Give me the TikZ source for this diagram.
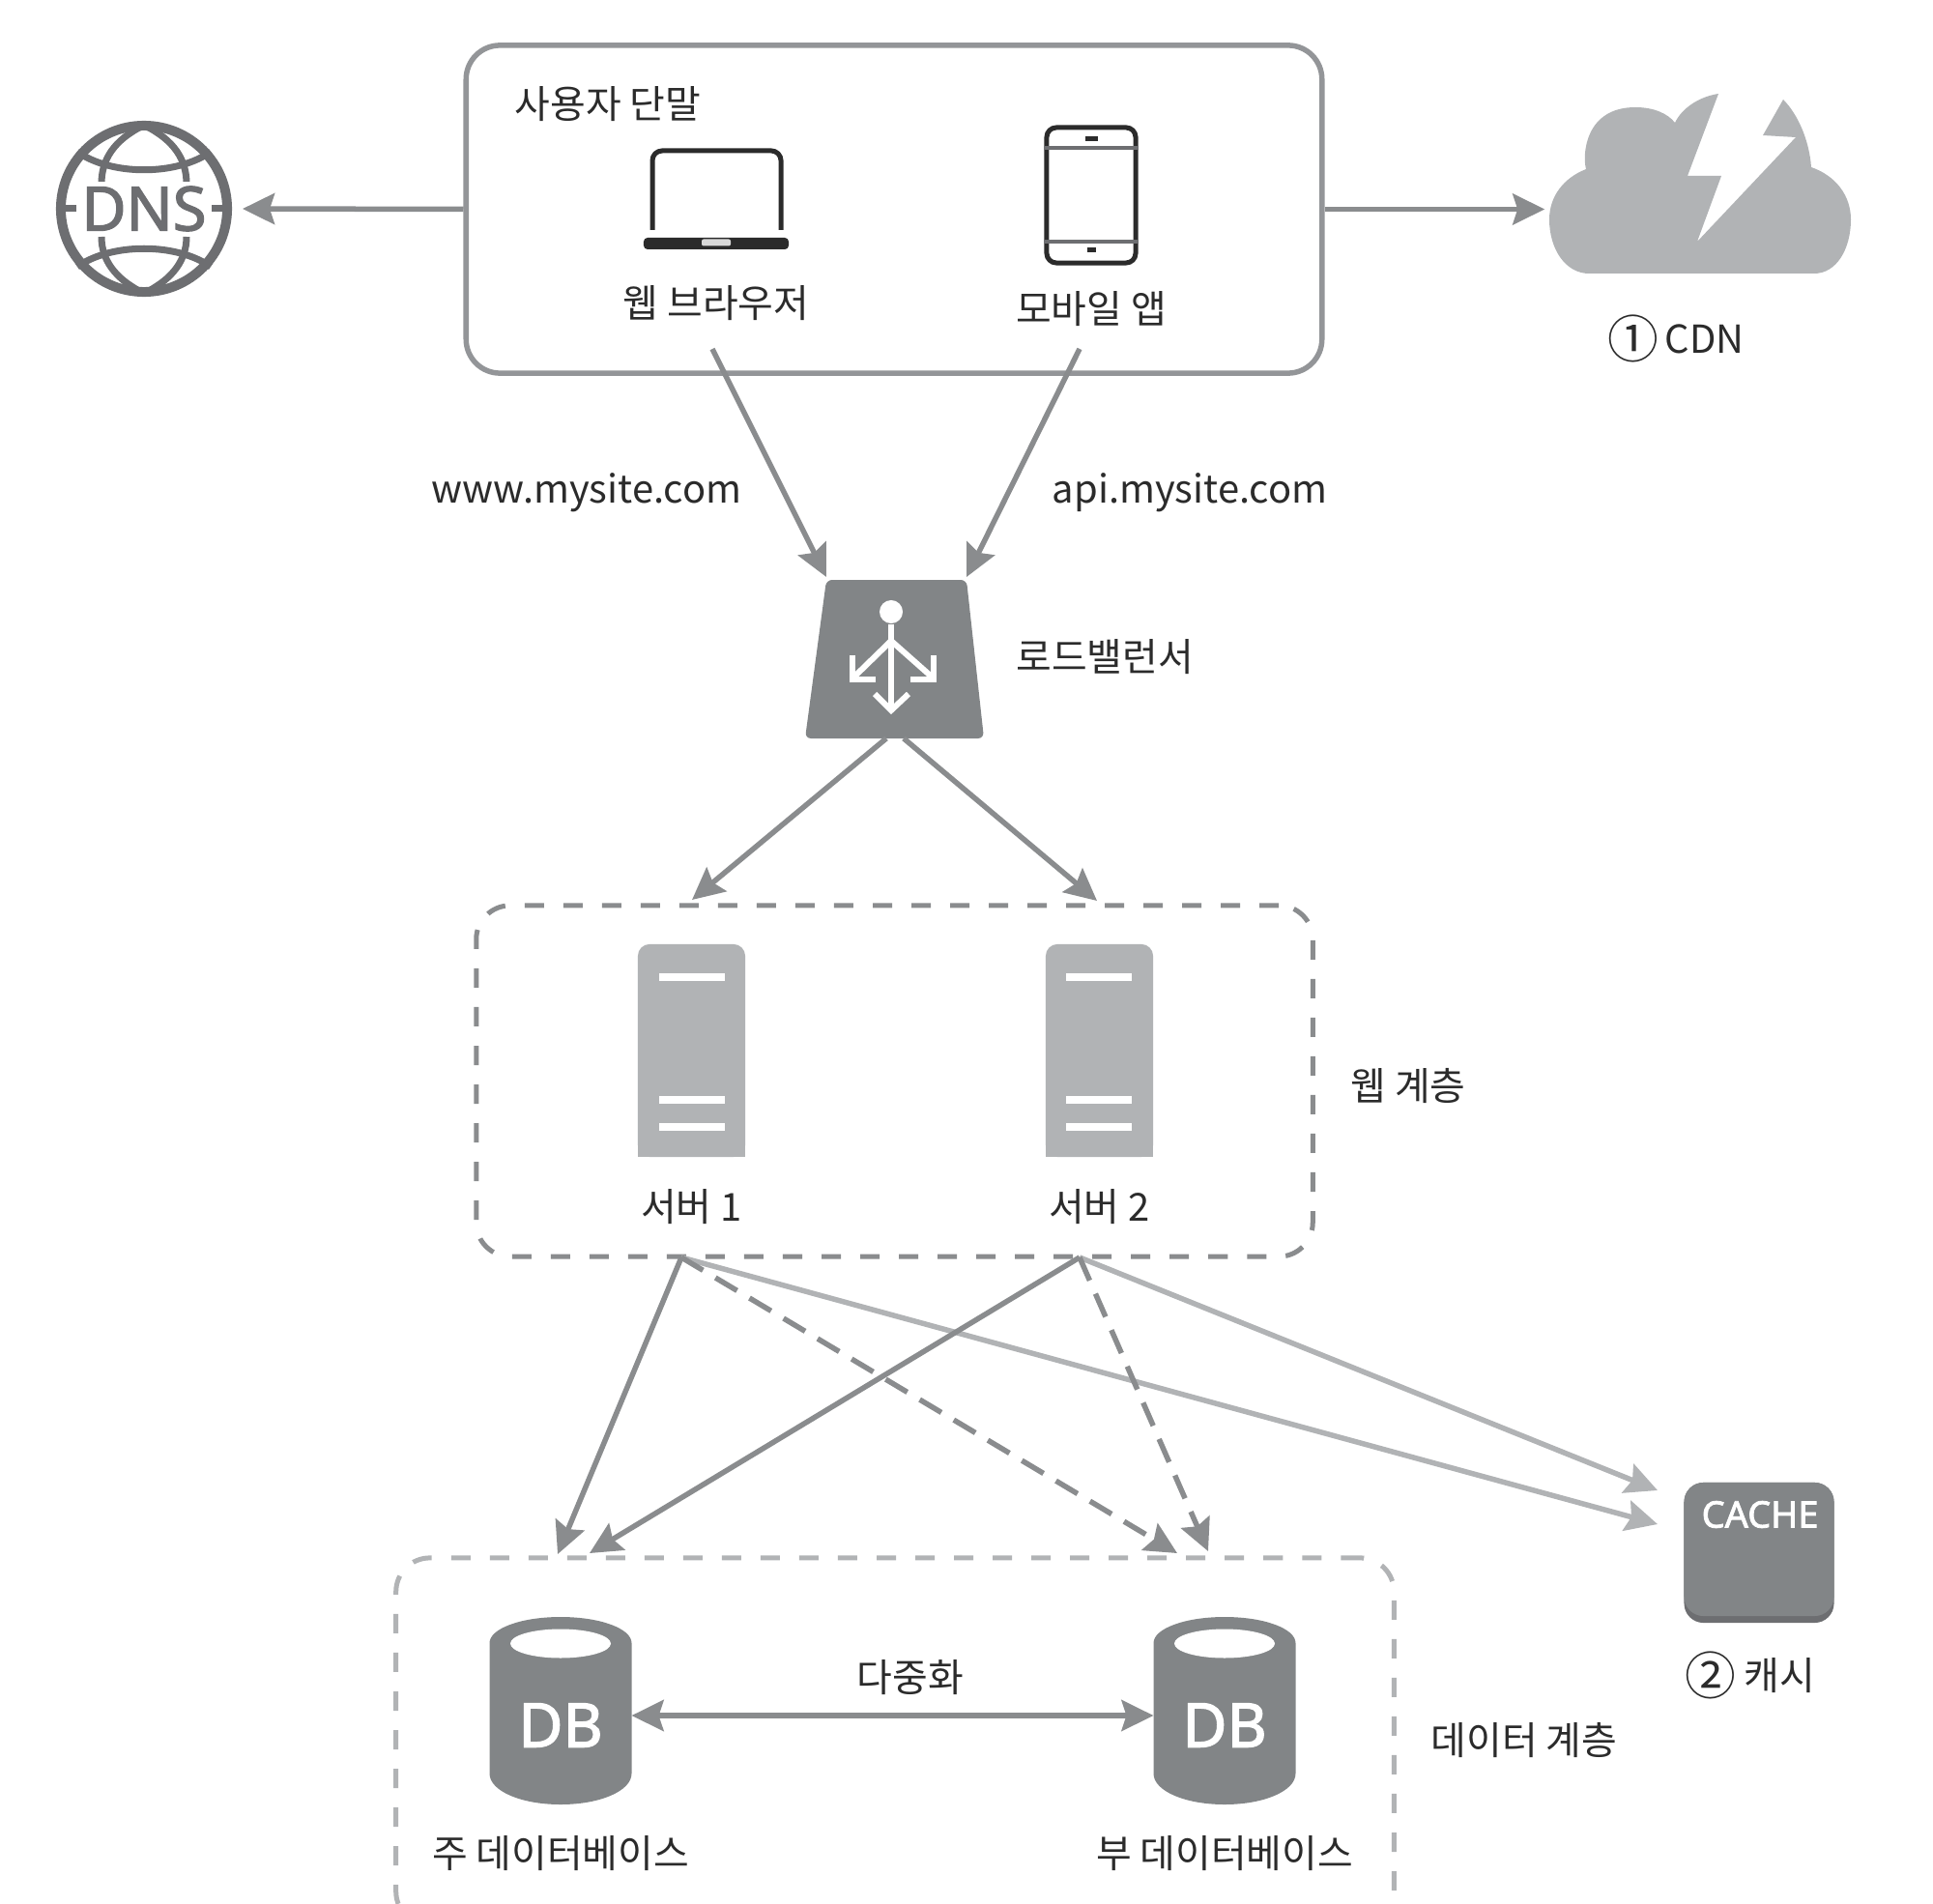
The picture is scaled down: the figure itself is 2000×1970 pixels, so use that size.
\documentclass[tikz,border=0pt]{standalone}
\usepackage{fontspec}
\setmainfont{Noto Sans CJK KR}
\newfontfamily\iconfont[FakeBold=2]{Noto Sans}
\usepackage{tikz}
\usetikzlibrary{shapes,arrows.meta,positioning,calc}
\usepackage{xcolor}
\definecolor{linegray}{HTML}{8A8C8E}
\definecolor{boxgray}{HTML}{939598}
\definecolor{lightgray}{HTML}{B1B3B5}
\definecolor{darkgray}{HTML}{828587}
\definecolor{edgegray}{HTML}{6D6E71}
\definecolor{inkgray}{HTML}{2B2B2B}

\begin{document}
\begin{tikzpicture}[
    x=0.01cm, y=-0.01cm,
    txt/.style={font=\fontsize{11.35}{13}\selectfont, text=inkgray, inner sep=0pt, text height=0.3cm, text depth=0.08cm, yshift=-0.04cm},
    numtxt/.style={font=\fontsize{15}{15}\selectfont, text=inkgray, inner sep=0pt},
    icontxt/.style={font=\iconfont\fontsize{18}{18}\selectfont, inner sep=0pt},
    conn/.style={draw=linegray, line width=0.055cm, -{Stealth[length=0.33cm, width=0.32cm, inset=0.05cm]}},
    twoway/.style={conn, {Stealth[length=0.33cm, width=0.32cm, inset=0.05cm]}-{Stealth[length=0.33cm, width=0.32cm, inset=0.05cm]}},
    dashconn/.style={conn, dash pattern=on 0.26cm off 0.15cm},
    cacheconn/.style={conn, draw=lightgray, color=lightgray},
    tier/.style={rectangle, draw=linegray, line width=0.05cm, rounded corners=0.35cm, dash pattern=on 0.2cm off 0.2cm, inner sep=0pt},
    srvbox/.style={rectangle, fill=lightgray, rounded corners=0.12cm, minimum width=1.11cm, minimum height=2.2cm, inner sep=0pt, outer sep=0pt},
    srvbar/.style={draw=white, line width=0.08cm},
    dbcyl/.style={rectangle, minimum width=1.47cm, minimum height=1.94cm, inner sep=0pt, outer sep=0pt},
    iconline/.style={draw=inkgray, line width=0.05cm},
    globeline/.style={draw=edgegray, line width=0.07cm},
    lbarrow/.style={draw=white, line width=0.06cm}
  ]
    \useasboundingbox (0,0) rectangle (2000,1970);
    \clip (0,0) rectangle (2000,1970);

    % User devices
    \node[rectangle, draw=boxgray, line width=0.055cm, rounded corners=0.35cm, minimum width=8.85cm, minimum height=3.39cm] (devices) at (925,216.5) {};
    \node[txt, anchor=west] (devlabel) at (532,107) {사용자 단말};

    % Laptop
    \draw[iconline, rounded corners=0.1cm] (675,238) -- (675,156) -- (808,156) -- (808,238);
    \node[rectangle, fill=inkgray, rounded corners=0.04cm, minimum width=1.5cm, minimum height=0.12cm, inner sep=0pt] (laptop) at (741,252) {};
    \node[rectangle, fill=black!15, rounded corners=0.02cm, minimum width=0.3cm, minimum height=0.07cm, inner sep=0pt] (notch) at (741,251) {};
    \node[txt, below=0.35cm of laptop] (browser) {웹 브라우저};

    % Phone
    \node[rectangle, iconline, rounded corners=0.1cm, minimum width=0.92cm, minimum height=1.4cm, inner sep=0pt] (phone) at (1129,202) {};
    \draw[edgegray, line width=0.04cm] (phone.west |- 0,153) -- (phone.east |- 0,153);
    \draw[edgegray, line width=0.04cm] (phone.west |- 0,250) -- (phone.east |- 0,250);
    \node[rectangle, fill=inkgray, minimum width=0.13cm, minimum height=0.05cm, inner sep=0pt] (speaker) at (1129,144) {};
    \node[rectangle, fill=inkgray, minimum width=0.09cm, minimum height=0.05cm, inner sep=0pt] (homekey) at (1129,259) {};
    \node[txt, below=0.25cm of phone] (mobile) {모바일 앱};

    % DNS globe
    \node[circle, draw=edgegray, line width=0.1cm, minimum size=1.72cm, inner sep=0pt] (dns) at (149,216) {};
    \draw[globeline] (148,130) .. controls (118,145) and (105,165) .. (105,190);
    \draw[globeline] (150,130) .. controls (180,145) and (193,165) .. (193,190);
    \draw[globeline] (105,245) .. controls (105,268) and (118,288) .. (148,303);
    \draw[globeline] (193,245) .. controls (193,268) and (180,288) .. (150,303);
    \draw[globeline] (80,157) .. controls (115,182) and (183,182) .. (218,157);
    \draw[globeline] (80,276) .. controls (115,251) and (183,251) .. (218,276);
    \draw[globeline] (dns.west) -- (dns.east);
    \node[icontxt, text=edgegray, fill=white, inner xsep=0.05cm, inner ysep=0.05cm] (dnstxt) at (dns) {DNS};

    % CDN cloud with its bolt
    \node[rectangle, minimum width=3.12cm, minimum height=1.86cm, inner sep=0pt] (cdn) at (1759,190) {};
    \fill[lightgray] (1644,283) .. controls (1620,283) and (1603,258) .. (1603,227)
      .. controls (1603,203) and (1618,184) .. (1641,175)
      .. controls (1637,160) and (1640,111) .. (1692,111)
      .. controls (1712,111) and (1726,118) .. (1733,127)
      .. controls (1740,112) and (1758,100) .. (1778,97)
      -- (1746,182) -- (1781,182) -- (1756,250) -- (1858,142) -- (1824,140) -- (1845,103)
      .. controls (1860,118) and (1872,145) .. (1874,173)
      .. controls (1900,182) and (1915,203) .. (1915,227)
      .. controls (1915,258) and (1900,283) .. (1877,283) -- cycle;
    \node[numtxt] (cdnnum) at (1690,350) {①};
    \node[txt, right=0.05cm of cdnnum] (cdnlabel) {CDN};

    % Load balancer
    \node[rectangle, minimum width=1.83cm, minimum height=1.64cm, inner sep=0pt] (lb) at (925.5,682) {};
    \fill[darkgray, rounded corners=0.06cm] (855,600) -- (1000,600) -- (1018,764) -- (833,764) -- cycle;
    \node[circle, fill=white, minimum size=0.24cm, inner sep=0pt] (lbdot) at (922,633) {};
    \draw[lbarrow] (lbdot) -- (922,735);
    \draw[lbarrow] (922,663) -- (882,702);
    \draw[lbarrow] (922,663) -- (966,702);
    \draw[lbarrow, line join=miter] (882,678) -- (882,703) -- (906,703);
    \draw[lbarrow, line join=miter] (966,678) -- (966,703) -- (942,703);
    \draw[lbarrow, line join=miter] (905,718) -- (922,735) -- (940,718);
    \node[txt, right=0.33cm of lb, yshift=0.025cm] (lblabel) {로드밸런서};

    % Web tier
    \node[tier, minimum width=8.65cm, minimum height=3.63cm] (webtier) at (925.5,1118.5) {};
    \node[srvbox] (srvone) at (715.5,1087) {};
    \fill[lightgray] (srvone.west) rectangle (srvone.south east);
    \draw[srvbar] (682,1011) -- (750,1011);
    \draw[srvbar] (682,1138) -- (750,1138);
    \draw[srvbar] (682,1166) -- (750,1166);
    \node[txt, below=0.32cm of srvone] (srvonelabel) {서버 1};
    \node[srvbox] (srvtwo) at (1137.5,1087) {};
    \fill[lightgray] (srvtwo.west) rectangle (srvtwo.south east);
    \draw[srvbar] (1103,1011) -- (1171,1011);
    \draw[srvbar] (1103,1138) -- (1171,1138);
    \draw[srvbar] (1103,1166) -- (1171,1166);
    \node[txt, below=0.32cm of srvtwo] (srvtwolabel) {서버 2};
    \node[txt, right=0.36cm of webtier, yshift=-0.05cm] (weblabel) {웹 계층};

    % Data tier
    \node[tier, draw=lightgray, minimum width=10.32cm, minimum height=3.8cm] (datatier) at (926,1802) {};
    \node[dbcyl] (dbmain) at (580,1770) {};
    \fill[darkgray] (506.5,1700) .. controls (506.5,1685) and (539,1673) .. (580,1673)
      .. controls (621,1673) and (653.5,1685) .. (653.5,1700) -- (653.5,1835)
      .. controls (653.5,1853) and (621,1867) .. (580,1867)
      .. controls (539,1867) and (506.5,1853) .. (506.5,1835) -- cycle;
    \fill[white] (580,1700.5) ellipse [x radius=52, y radius=15];
    \node[icontxt, text=white] (dbmaintxt) at (580,1785) {DB};
    \node[txt, below=0.31cm of dbmain] (dbmainlabel) {주 데이터베이스};
    \node[dbcyl] (dbsub) at (1267,1770) {};
    \fill[darkgray] (1193.5,1700) .. controls (1193.5,1685) and (1226,1673) .. (1267,1673)
      .. controls (1308,1673) and (1340.5,1685) .. (1340.5,1700) -- (1340.5,1835)
      .. controls (1340.5,1853) and (1308,1867) .. (1267,1867)
      .. controls (1226,1867) and (1193.5,1853) .. (1193.5,1835) -- cycle;
    \fill[white] (1267,1700.5) ellipse [x radius=52, y radius=15];
    \node[icontxt, text=white] (dbsubtxt) at (1267,1785) {DB};
    \node[txt, below=0.31cm of dbsub] (dbsublabel) {부 데이터베이스};
    \node[txt] (dupelabel) at (942,1735) {다중화};
    \node[txt, anchor=west] (datalabel) at (1480,1800) {데이터 계층};

    % Cache
    \node[rectangle, fill=edgegray, rounded corners=0.2cm, minimum width=1.55cm, minimum height=1.45cm, inner sep=0pt] (cachebase) at (1820,1606.5) {};
    \node[rectangle, fill=darkgray, rounded corners=0.2cm, minimum width=1.55cm, minimum height=1.38cm, inner sep=0pt] (cache) at (1820,1603) {};
    \node[icontxt, text=white, font=\iconfont\fontsize{10.8}{11}\selectfont] (cachetxt) at (1821,1567) {CACHE};
    \node[numtxt] (cachenum) at (1770,1733) {②};
    \node[txt, right=0.07cm of cachenum] (cachelabel) {캐시};

    % Domain names
    \node[txt] (wwwlabel) at (607,505) {www.mysite.com};
    \node[txt] (apilabel) at (1231,505) {api.mysite.com};

    % Connector ends
    \coordinate (browserout) at (737,361);
    \coordinate (mobileout) at (1117,361);
    \coordinate (lbinleft) at (855,597);
    \coordinate (lbinright) at (1000,597);
    \coordinate (lboutleft) at (917,764);
    \coordinate (lboutright) at (935,764);
    \coordinate (webinleft) at (716,931);
    \coordinate (webinright) at (1135,932);
    \coordinate (srvoneout) at (705,1301);
    \coordinate (srvtwoout) at (1117,1301);
    \coordinate (mainone) at (577,1608);
    \coordinate (maintwo) at (610,1607);
    \coordinate (subone) at (1218,1607);
    \coordinate (subtwo) at (1250,1605);
    \coordinate (cacheone) at (1715,1542);
    \coordinate (cachetwo) at (1715,1577);

    % Arrows
    \draw[conn] (devices.west) -- ([xshift=0.11cm]dns.east);
    \draw[conn] (devices.east) -- ([xshift=-0.04cm]devices.east -| cdn.west);
    \draw[conn] (browserout) -- (lbinleft);
    \draw[conn] (mobileout) -- (lbinright);
    \draw[conn] (lboutleft) -- (webinleft);
    \draw[conn] (lboutright) -- (webinright);
    \draw[cacheconn] (srvoneout) -- (cachetwo);
    \draw[cacheconn] (srvtwoout) -- (cacheone);
    \draw[conn] (srvoneout) -- (mainone);
    \draw[conn] (srvtwoout) -- (maintwo);
    \draw[dashconn] (srvoneout) -- (subone);
    \draw[dashconn] (srvtwoout) -- (subtwo);
    \draw[twoway] ([yshift=-0.05cm]dbmain.east) -- ([yshift=-0.05cm]dbsub.west);
  \end{tikzpicture}
\end{document}
